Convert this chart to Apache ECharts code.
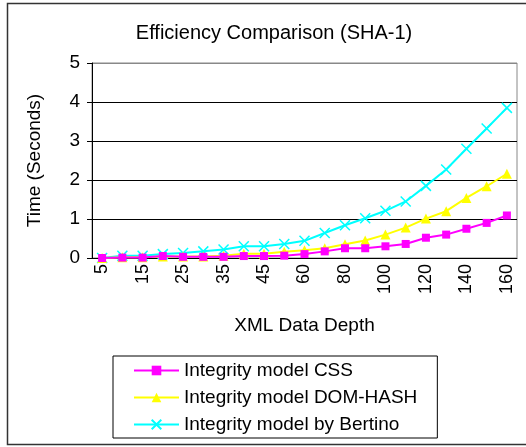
<!DOCTYPE html>
<html>
<head>
<meta charset="utf-8">
<script src="https://cdn.jsdelivr.net/npm/echarts@6/dist/echarts.min.js"></script>
<style>
  html, body { margin: 0; padding: 0; background: #fff; }
  #chart { width: 526px; height: 447px; }
</style>
</head>
<body>
<div id="chart"></div>
<script>
const depths = ['5', '10', '15', '20', '25', '30', '35', '40', '45', '50', '60', '70', '80', '90', '100', '110', '120', '130', '140', '150', '160']
const cssTimes = [0, 0.01, 0.01, 0.05, 0.03, 0.03, 0.03, 0.05, 0.05, 0.06, 0.1, 0.17, 0.25, 0.25, 0.3, 0.36, 0.52, 0.6, 0.75, 0.9, 1.09]
const domHashTimes = [0, 0.02, 0.02, 0.04, 0.04, 0.04, 0.06, 0.11, 0.11, 0.16, 0.2, 0.25, 0.35, 0.45, 0.6, 0.78, 1.01, 1.2, 1.54, 1.84, 2.16]
const bertinoTimes = [0, 0.06, 0.06, 0.1, 0.13, 0.17, 0.22, 0.3, 0.3, 0.36, 0.44, 0.64, 0.84, 1.02, 1.21, 1.45, 1.85, 2.27, 2.8, 3.32, 3.85]

const font = 'Liberation Sans, Arial, sans-serif'
const chart = echarts.init(document.getElementById('chart'))

const option = {
  backgroundColor: '#fff',
  animation: false,
  textStyle: { fontFamily: font, color: '#000' },
  graphic: [{
    type: 'rect', z: -10,
    shape: { x: 7.5, y: 3.5, width: 530, height: 441 },
    style: { fill: 'none', stroke: '#333', lineWidth: 1.5 }
  }],
  title: {
    text: 'Efficiency Comparison (SHA-1)',
    left: 269, top: 18, textAlign: 'center',
    textStyle: { fontFamily: font, fontSize: 20, fontWeight: 'normal', color: '#000' }
  },
  legend: {
    orient: 'vertical', left: 113, top: 356,
    padding: [5, 20, 4, 20], itemGap: 8,
    itemWidth: 45, itemHeight: 12,
    borderColor: '#000', borderWidth: 1,
    textStyle: { fontFamily: font, fontSize: 19, color: '#000' },
    data: ['Integrity model CSS', 'Integrity model DOM-HASH', 'Integrity model by Bertino']
  },
  grid: { left: 92, right: 9, top: 63, bottom: 189, show: true, borderColor: '#888', borderWidth: 1 },
  xAxis: {
    type: 'category', data: depths, boundaryGap: true,
    name: 'XML Data Depth', nameLocation: 'middle', nameGap: 58,
    nameTextStyle: { fontFamily: font, fontSize: 19, color: '#000' },
    axisLine: { lineStyle: { color: '#000', width: 1 } },
    axisTick: { interval: 0, length: 5, lineStyle: { color: '#000' } },
    axisLabel: { interval: 1, rotate: 90, fontFamily: font, fontSize: 18, color: '#000', margin: 6 }
  },
  yAxis: {
    type: 'value', min: 0, max: 5, interval: 1,
    name: 'Time (Seconds)', nameLocation: 'middle', nameGap: 48, nameRotate: 90,
    nameTextStyle: { fontFamily: font, fontSize: 19, color: '#000' },
    axisLine: { show: true, lineStyle: { color: '#000', width: 1 } },
    axisTick: { show: true, length: 5, lineStyle: { color: '#000' } },
    axisLabel: { fontFamily: font, fontSize: 19, color: '#000', margin: 12 },
    splitLine: { lineStyle: { color: ['#000', '#000', '#000', '#000', '#000', '#888'], width: 1 } }
  },
  series: [
    {
      name: 'Integrity model CSS', type: 'line', data: cssTimes,
      symbol: 'rect', symbolSize: 8, z: 4,
      lineStyle: { color: '#ff00ff', width: 2 },
      itemStyle: { color: '#ff00ff' }
    },
    {
      name: 'Integrity model DOM-HASH', type: 'line', data: domHashTimes,
      symbol: 'triangle', symbolSize: 10, z: 3,
      lineStyle: { color: '#ffff00', width: 2 },
      itemStyle: { color: '#ffff00' }
    },
    {
      name: 'Integrity model by Bertino', type: 'line', data: bertinoTimes,
      symbol: 'path://M0,0L10,10M10,0L0,10', symbolSize: 10, z: 2,
      lineStyle: { color: '#00ffff', width: 2 },
      itemStyle: { color: '#00ffff', borderColor: '#00ffff', borderWidth: 1.5 }
    }
  ]
}

chart.setOption(option)
window.addEventListener('resize', () => chart.resize())
</script>
</body>
</html>
